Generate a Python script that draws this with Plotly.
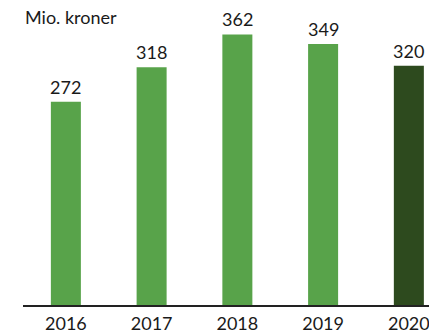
import plotly.graph_objects as go

years = ["2016", "2017", "2018", "2019", "2020"]
values = [272, 318, 362, 349, 320]
colors = ["#58A34A", "#58A34A", "#58A34A", "#58A34A", "#2D4A1E"]
unit_label = "Mio. kroner"

FONT = "Lato"
TEXT_COLOR = "#1a1a1a"

fig = go.Figure(
    go.Bar(
        x=years,
        y=values,
        marker=dict(color=colors, line=dict(width=0)),
        width=0.35,
        hoverinfo="skip",
    )
)

# value labels above each bar (category axis: position by index)
for i, v in enumerate(values):
    fig.add_annotation(
        x=i, y=v, text=str(v), showarrow=False,
        xref="x", yref="y", yanchor="bottom", yshift=2,
        font=dict(family=FONT, size=18, color=TEXT_COLOR),
    )

fig.add_annotation(
    x=0, y=0.963, xref="paper", yref="paper",
    xanchor="left", yanchor="middle", text=unit_label, showarrow=False,
    font=dict(family=FONT, size=18, color=TEXT_COLOR),
)

fig.update_layout(
    width=429, height=334,
    margin=dict(l=23, r=0, t=6, b=29, autoexpand=False),
    paper_bgcolor="white", plot_bgcolor="white",
    showlegend=False,
    xaxis=dict(
        type="category", range=[-0.5, 4.235], automargin=False,
        showgrid=False, zeroline=False,
        showline=True, linecolor="#222222", linewidth=1.5,
        ticks="", ticklabelstandoff=2,
        tickfont=dict(family=FONT, size=18, color=TEXT_COLOR),
    ),
    yaxis=dict(
        range=[0, 400], visible=False, showgrid=False, zeroline=False,
        automargin=False,
    ),
)

fig.write_html("out.html")
